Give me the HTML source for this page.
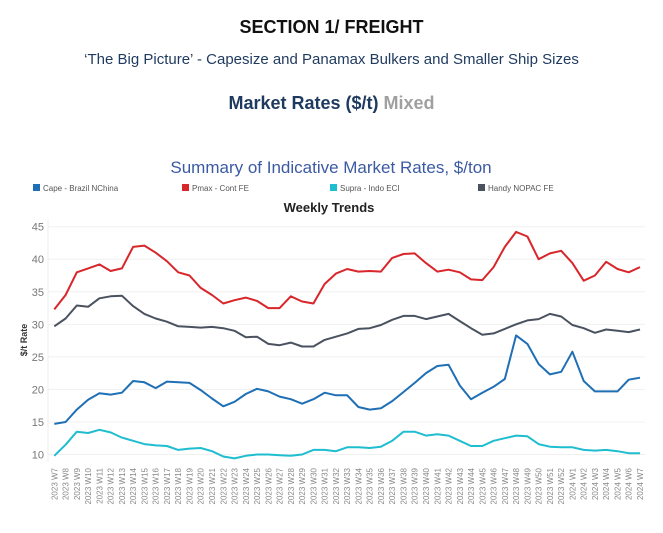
<!DOCTYPE html>
<html><head><meta charset="utf-8"><style>
body{margin:0;background:#fff;font-family:"Liberation Sans",sans-serif;}
#wrap{position:relative;width:663px;height:533px;overflow:hidden;}
.t{position:absolute;left:0;width:663px;text-align:center;white-space:nowrap;}
</style></head><body>
<div id="wrap">
<div class="t" style="top:17px;font-size:18px;font-weight:bold;color:#111;">SECTION 1/ FREIGHT</div>
<div class="t" style="top:51px;font-size:15px;color:#1f3a5f;">‘The Big Picture’ - Capesize and Panamax Bulkers and Smaller Ship Sizes</div>
<div class="t" style="top:93px;font-size:18px;font-weight:bold;color:#1f3a5f;">Market Rates ($/t) <span style="color:#a0a0a0">Mixed</span></div>
<svg id="chart" width="663" height="533" style="position:absolute;left:0;top:0"></svg>
</div>
<script>
const categories=[];
for(let w=7;w<=52;w++)categories.push('2023 W'+w);
for(let w=1;w<=7;w++)categories.push('2024 W'+w);
const capeValues=[14.7,15.0,16.9,18.4,19.4,19.2,19.5,21.3,21.1,20.2,21.2,21.1,21.0,19.9,18.6,17.4,18.1,19.3,20.1,19.7,18.9,18.5,17.8,18.5,19.5,19.1,19.1,17.3,16.9,17.1,18.2,19.6,21.0,22.5,23.6,23.8,20.6,18.5,19.5,20.4,21.6,28.3,27.0,23.9,22.3,22.7,25.8,21.3,19.7,19.7,19.7,21.5,21.8];
const pmaxValues=[32.3,34.5,38.0,38.6,39.2,38.2,38.6,41.9,42.1,41.0,39.7,38.0,37.5,35.6,34.5,33.2,33.7,34.1,33.6,32.5,32.5,34.3,33.5,33.2,36.2,37.8,38.5,38.1,38.2,38.1,40.2,40.8,40.9,39.4,38.1,38.4,38.0,36.9,36.8,38.8,41.9,44.2,43.5,40.0,40.9,41.3,39.4,36.7,37.5,39.6,38.5,38.0,38.8];
const supraValues=[9.8,11.5,13.5,13.3,13.8,13.4,12.6,12.1,11.6,11.4,11.3,10.7,10.9,11.0,10.5,9.7,9.4,9.8,10.0,10.0,9.9,9.8,10.0,10.7,10.7,10.5,11.1,11.1,11.0,11.2,12.1,13.5,13.5,12.9,13.1,12.9,12.1,11.3,11.3,12.1,12.5,12.9,12.8,11.6,11.2,11.1,11.1,10.7,10.6,10.7,10.5,10.2,10.2];
const handyValues=[29.7,30.9,32.9,32.7,34.0,34.3,34.4,32.8,31.6,30.9,30.4,29.7,29.6,29.5,29.6,29.4,29.0,28.0,28.1,27.0,26.8,27.2,26.6,26.6,27.6,28.1,28.6,29.3,29.4,29.9,30.7,31.3,31.3,30.8,31.2,31.6,30.5,29.4,28.4,28.6,29.3,30.0,30.6,30.8,31.6,31.2,29.9,29.4,28.7,29.2,29.0,28.8,29.2];
const yTicks=[10,15,20,25,30,35,40,45];
const seriesNames=['Cape - Brazil NChina','Pmax - Cont FE','Supra - Indo ECI','Handy NOPAC FE'];
const seriesColors=['#1f6fb5','#d8262a','#1fbdd0','#4a5260'];

const svg=document.getElementById('chart');
const NS='http://www.w3.org/2000/svg';
function el(t,a){const e=document.createElementNS(NS,t);for(const k in a)e.setAttribute(k,a[k]);svg.appendChild(e);return e;}
const x0=54.3,x1=640,yMin=10,yMax=45,yTop=226.7,yBot=454.5;
const xs=i=>x0+(x1-x0)*i/(categories.length-1);
const ys=v=>yBot-(v-yMin)/(yMax-yMin)*(yBot-yTop);

let t=el('text',{x:331,y:173,'text-anchor':'middle','font-size':'17','fill':'#3b5aa3'});t.textContent='Summary of Indicative Market Rates, $/ton';


const legX=[33,182,330,478];
seriesNames.forEach((n,i)=>{
  const r=el('rect',{x:legX[i],y:184,width:7,height:7,fill:seriesColors[i]});
  
  
  const tx=el('text',{x:legX[i]+10,y:191,'font-size':'8','fill':'#555'});tx.textContent=n;
  
  
});
t=el('text',{x:329,y:212,'text-anchor':'middle','font-size':'13','font-weight':'bold','fill':'#222'});t.textContent='Weekly Trends';



yTicks.forEach(v=>{
  const g=el('line',{x1:48,x2:645,y1:ys(v),y2:ys(v),stroke:'#f0f0f0','stroke-width':1});
  
  
  const l=el('text',{x:44,y:ys(v)+4,'text-anchor':'end','font-size':'11','fill':'#777'});l.textContent=v;
  
  
});
const ax=el('line',{x1:48,x2:48,y1:220,y2:462,stroke:'#eee'});


t=el('text',{x:0,y:0,'font-size':'9','font-weight':'bold','fill':'#333','text-anchor':'middle',transform:'translate(27,340) rotate(-90)'});t.textContent='$/t Rate';



categories.forEach((c,i)=>{
  const l=el('text',{x:0,y:0,'font-size':'8','fill':'#888','text-anchor':'end',transform:`translate(${xs(i)+3},468) rotate(-90)`});l.textContent=c;
  
  
});

[capeValues,pmaxValues,supraValues,handyValues].forEach((vals,si)=>{
  const d=vals.map((v,i)=>(i?'L':'M')+xs(i).toFixed(1)+' '+ys(v).toFixed(1)).join(' ');
  const p=el('path',{d:d,fill:'none',stroke:seriesColors[si],'stroke-width':2,'stroke-linejoin':'round'});
  
  
});
</script>
</body></html>
